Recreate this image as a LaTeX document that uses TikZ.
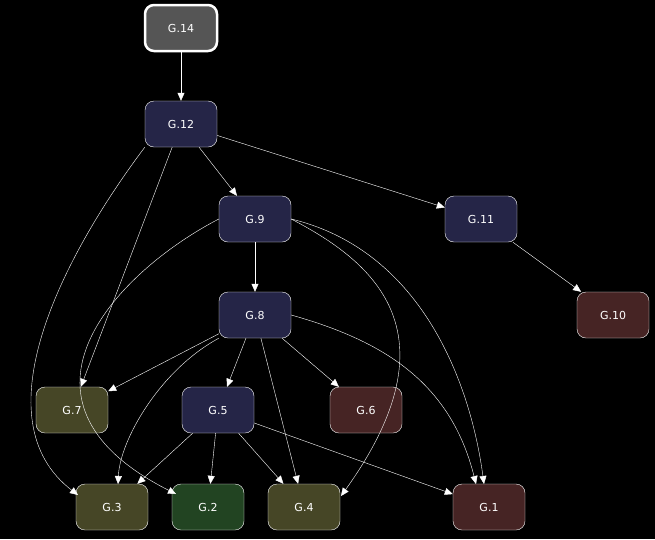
\documentclass[tikz,border=0pt]{standalone}
\usepackage{fontspec}
\setmainfont{DejaVu Sans}
\usetikzlibrary{arrows.meta}
\definecolor{navy}{HTML}{252547}
\definecolor{olive}{HTML}{464626}
\definecolor{wine}{HTML}{462424}
\definecolor{moss}{HTML}{224422}
\definecolor{slate}{HTML}{555555}
\begin{document}
\begin{tikzpicture}[x=1pt,y=-1pt,font=\fontsize{11}{13}\selectfont]
        \tikzstyle{every path}=[white]
        \tikzstyle{box}=[draw=white,rounded corners=9pt,minimum width=72pt,minimum height=46pt,text=white]
        \tikzstyle{edge}=[-{Triangle[length=8pt,width=7pt]},white]

        \fill[black] (0,0) rectangle (655,539);
        \useasboundingbox (0,0) rectangle (655,539);

        \node [box,fill=slate,line width=2.5pt] (14) at (181,28) {G.14};
        \node [box,fill=navy] (12) at (181,124) {G.12};
        \node [box,fill=navy] (9) at (255,219) {G.9};
        \node [box,fill=navy] (11) at (481,219) {G.11};
        \node [box,fill=wine] (10) at (613,315) {G.10};
        \node [box,fill=navy] (8) at (255,315) {G.8};
        \node [box,fill=olive] (7) at (72,410) {G.7};
        \node [box,fill=navy] (5) at (218,410) {G.5};
        \node [box,fill=wine] (6) at (366,410) {G.6};
        \node [box,fill=olive] (3) at (112,507) {G.3};
        \node [box,fill=moss] (2) at (208,507) {G.2};
        \node [box,fill=olive] (4) at (304,507) {G.4};
        \node [box,fill=wine] (1) at (489,507) {G.1};

        %edges
        \draw [edge] (14) -- (12);
        \draw [edge] (12) -- (9);
        \draw [edge] (12) -- (11);
        \draw [edge] (12) -- (7);
        \draw [edge] (12.south west) .. controls (60,260) and (-20,420) .. (78,495);
        \draw [edge] (11) -- (10);
        \draw [edge] (9) -- (8);
        \draw [edge] (9.west) .. controls (120,270) and (-10,400) .. (176,494);
        \draw [edge] (9.east) .. controls (370,260) and (460,330) .. (341,496);
        \draw [edge] (9.east) .. controls (420,250) and (470,380) .. (484,484);
        \draw [edge] (8) -- (7);
        \draw [edge] (8) -- (5);
        \draw [edge] (8) -- (6);
        \draw [edge] (8) -- (4);
        \draw [edge] (8.south west) .. controls (160,370) and (120,440) .. (118,484);
        \draw [edge] (8.east) .. controls (380,340) and (450,380) .. (476,484);
        \foreach \t in {3,2,4,1} {
            \draw [edge] (5) -- (\t);
        };
\end{tikzpicture}
\end{document}
